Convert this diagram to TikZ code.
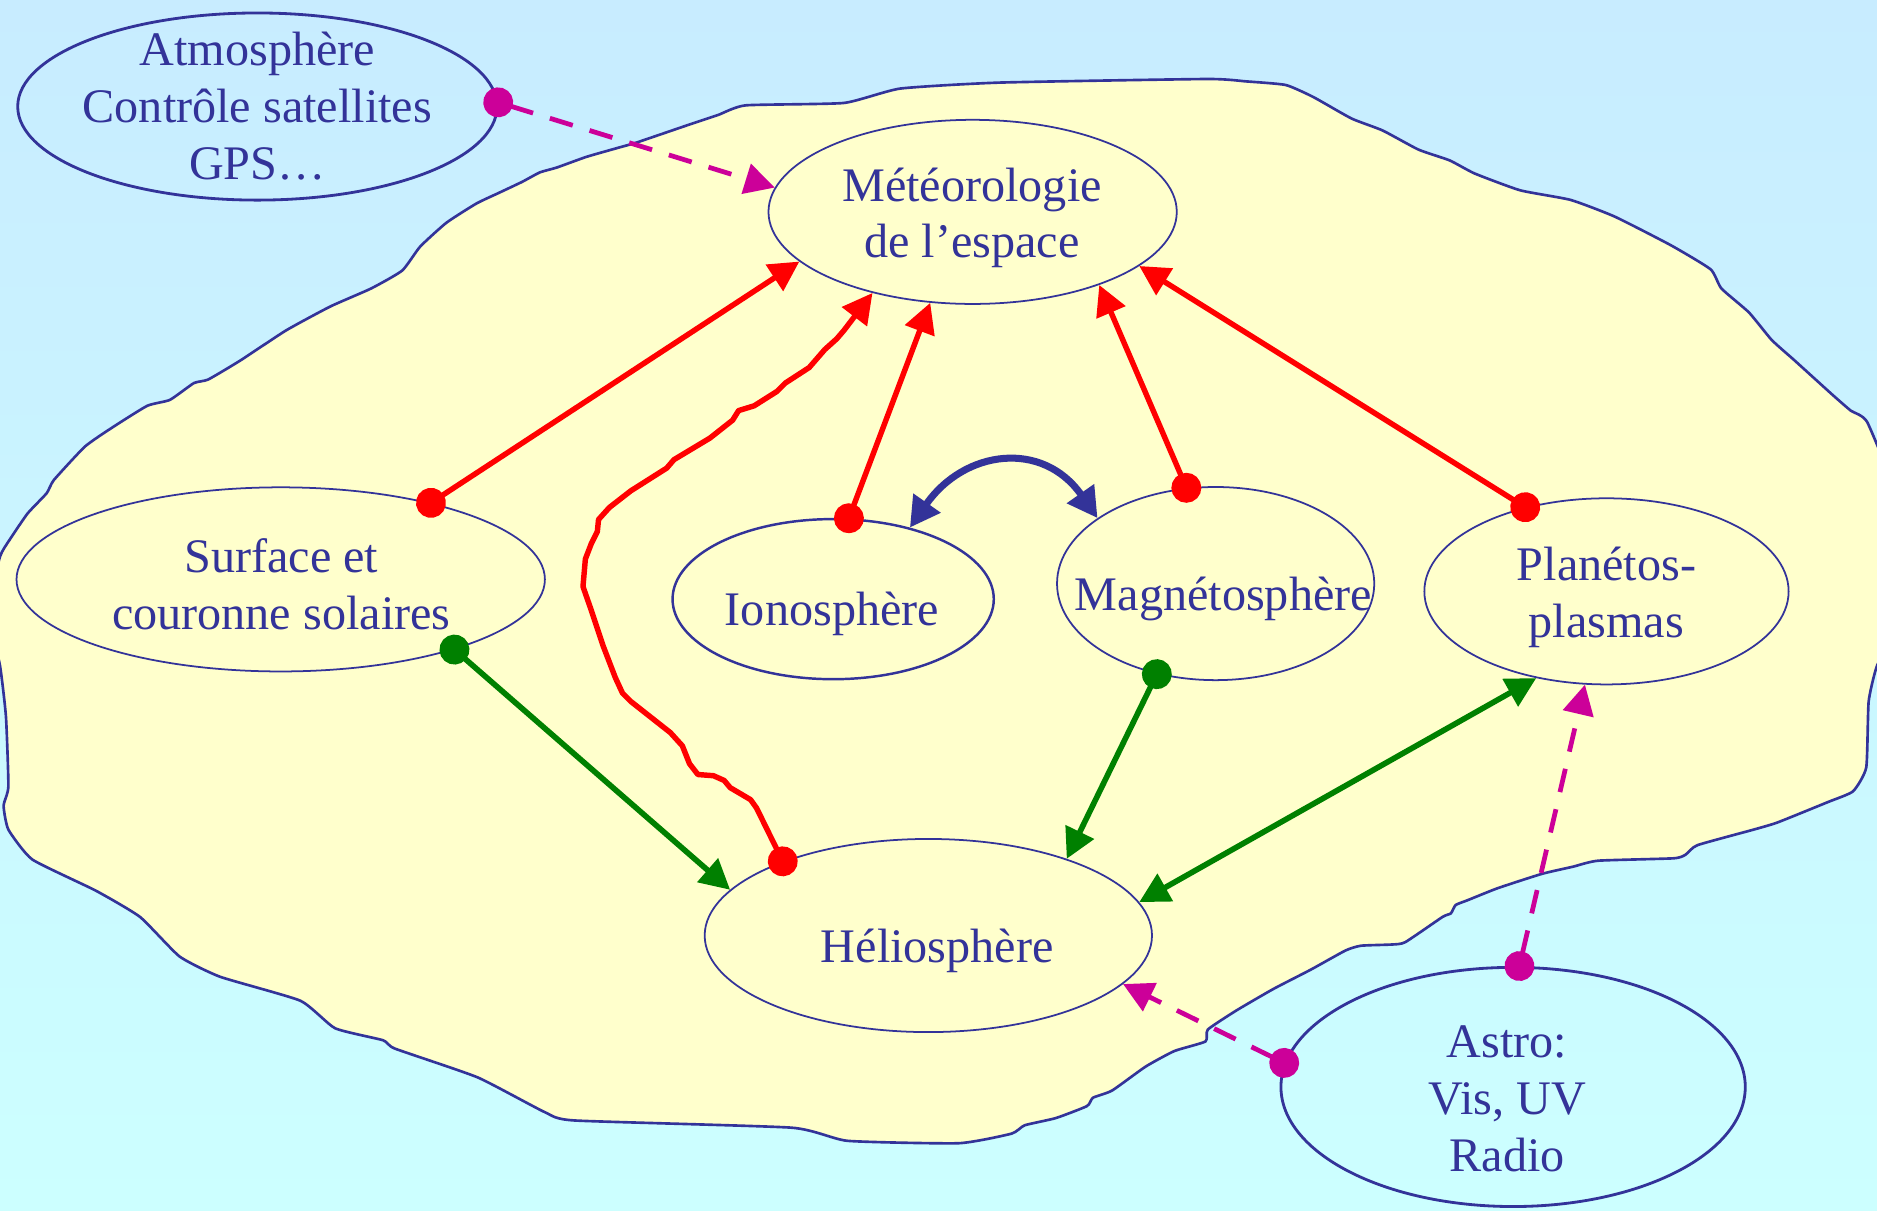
\documentclass[tikz,border=0pt]{standalone}
\usepackage{fontspec}
\setmainfont{Liberation Serif}
\usepackage{xcolor}
\usepackage{tikz}
\usetikzlibrary{shapes.geometric,arrows.meta}

\definecolor{ink}{RGB}{51,51,153}
\definecolor{skytop}{RGB}{200,236,255}
\definecolor{skylow}{RGB}{204,255,255}
\definecolor{cream}{RGB}{255,255,204}
\definecolor{leaf}{RGB}{0,128,0}
\definecolor{plum}{RGB}{204,0,153}

\begin{document}
\begin{tikzpicture}[x=0.01197cm, y=-0.01197cm,
    topic/.style={ellipse, draw=ink, fill=cream, line width=0.5pt, inner sep=0pt},
    outside/.style={ellipse, draw=ink, line width=0.8pt, inner sep=0pt},
    caption/.style={text=ink, align=center, inner sep=0pt,
        font={\fontsize{13.7}{16.2}\selectfont}},
    redlink/.style={draw=red, line width=1.55pt, line join=round,
        {Circle[length=8.5pt]}-{Triangle[length=8.5pt,width=8.7pt]}, shorten <=-4.25pt},
    greenlink/.style={draw=leaf, line width=1.6pt,
        {Circle[length=8.5pt]}-{Triangle[length=8.5pt,width=8.7pt]}, shorten <=-4.25pt},
    greenpair/.style={draw=leaf, line width=1.6pt,
        {Triangle[length=8.5pt,width=8.7pt]}-{Triangle[length=8.5pt,width=8.7pt]}},
    bluelink/.style={draw=ink, line width=2pt,
        {Triangle[length=8.5pt,width=9pt]}-{Triangle[length=8.5pt,width=9pt]}},
    pinklink/.style={draw=plum, line width=1.35pt, dash pattern=on 6.8pt off 5pt,
        {Circle[length=8.5pt]}-{Triangle[length=8.5pt,width=8.7pt]}, shorten <=-4.25pt}]

    % Background
    \fill[top color=skytop, bottom color=skylow] (0,0) rectangle (1568,1011);
    \useasboundingbox (0,0) rectangle (1568,1011);

    % Domain
    \filldraw[fill=cream, draw=ink, line width=0.75pt]
        plot[smooth cycle, tension=0.3] coordinates {
        (600,96) (623,88) (705,86) (752,74) (835,69) (1008,66) (1041,68)
        (1074,71) (1097,81) (1129,99) (1155,109) (1185,125) (1211,134)
        (1232,145) (1270,159) (1312,167) (1349,181) (1396,205) (1429,225)
        (1438,241) (1461,261) (1480,284) (1499,301) (1531,330) (1546,343)
        (1560,353) (1585,420) (1585,520) (1568,556) (1561,586) (1559,641)
        (1548,661) (1527,670) (1485,687) (1465,693) (1418,706) (1408,714)
        (1398,717) (1335,719) (1314,724) (1288,730) (1251,742) (1226,752)
        (1216,756) (1212,763) (1205,766) (1174,787) (1163,789) (1137,790)
        (1124,794) (1095,810) (1064,826) (1033,844) (1009,860) (1007,870)
        (981,878) (957,891) (929,911) (913,917) (908,924) (882,934)
        (856,940) (845,947) (801,955) (708,953) (661,942) (480,936)
        (455,929) (399,900) (330,876) (320,869) (280,859) (251,836)
        (184,816) (150,799) (117,766) (80,744) (27,718) (7,693) (3,673)
        (7,657) (5,599) (0,556) (-10,510) (0,465) (8,451) (23,429)
        (39,412) (45,401) (71,373) (94,357) (123,339) (142,334) (162,320)
        (174,317) (201,301) (239,276) (276,256) (310,241) (336,226)
        (351,206) (373,186) (398,170) (417,161) (436,152) (451,144)
        (465,140) (490,131) (518,123) (532,119) (576,104)};

    % Topics
    \node[outside, minimum width=4.79cm, minimum height=1.87cm] (atmo) at (215,89) {};
    \node[topic, minimum width=4.08cm, minimum height=1.84cm] (meteo) at (812.5,177) {};
    \node[topic, minimum width=5.28cm, minimum height=1.84cm] (surface) at (234.5,484) {};
    \node[topic, line width=0.7pt, minimum width=3.21cm, minimum height=1.60cm] (iono) at (696,500.5) {};
    \node[topic, minimum width=3.17cm, minimum height=1.93cm] (magneto) at (1015.5,487.5) {};
    \node[topic, minimum width=3.64cm, minimum height=1.86cm] (planeto) at (1342,494) {};
    \node[topic, minimum width=4.47cm, minimum height=1.93cm] (helio) at (775.5,781.5) {};
    \node[outside, minimum width=4.64cm, minimum height=2.39cm] (astro) at (1264,908) {};

    % Labels
    \node[caption] (atmotext) at (215,89) {Atmosphère\\Contrôle satellites\\GPS…};
    \node[caption] (meteotext) at (812,182) {Météorologie\\de l’espace};
    \node[caption] (surfacetext) at (235,488) {Surface et\\couronne solaires};
    \node[caption] (ionotext) at (695,513) {Ionosphère};
    \node[caption] (magnetotext) at (1022,500) {Magnétosphère};
    \node[caption] (planetotext) at (1342,499) {Planétos-\\plasmas};
    \node[caption] (heliotext) at (783,794) {Héliosphère};
    \node[caption] (astrotext) at (1259,918) {Astro:\\Vis, UV\\Radio};

    % Links to space weather
    \draw[redlink] (surface.27) -- (meteo.196);
    \draw[redlink] (iono.79) -- (meteo.245);
    \draw[redlink] (magneto.107) -- (meteo.330);
    \draw[redlink] (planeto.134) -- (meteo.342);
    \draw[redlink] (helio.153) -- (632,675) -- (627,668) -- (610,658) -- (605,652)
        -- (596,648) -- (583,647) -- (576,638) -- (570,623) -- (560,612) -- (527,586)
        -- (520,579) -- (514,566) -- (504,540) -- (494,510) -- (487,490) -- (489,467)
        -- (494,454) -- (499,444) -- (500,434) -- (509,424) -- (527,410) -- (557,391)
        -- (563,384) -- (593,366) -- (612,351) -- (617,343) -- (630,339) -- (649,327)
        -- (656,320) -- (676,307) -- (689,292) -- (699,283) -- (705,276) -- (meteo.219);

    % Coupling
    \draw[bluelink] (iono.43) to[out=55, in=125, looseness=1.3] (magneto.151);

    % Links to heliosphere
    \draw[greenlink] (surface.-22) -- (helio.167);
    \draw[greenlink] (magneto.237) -- (helio.29);
    \draw[greenpair] (planeto.231) -- (helio.9);

    % Observations
    \draw[pinklink] (atmo.1) -- (meteo.173);
    \draw[pinklink] (astro.174) -- (helio.346);
    \draw[pinklink] (astro.87) -- (planeto.257);
\end{tikzpicture}
\end{document}
